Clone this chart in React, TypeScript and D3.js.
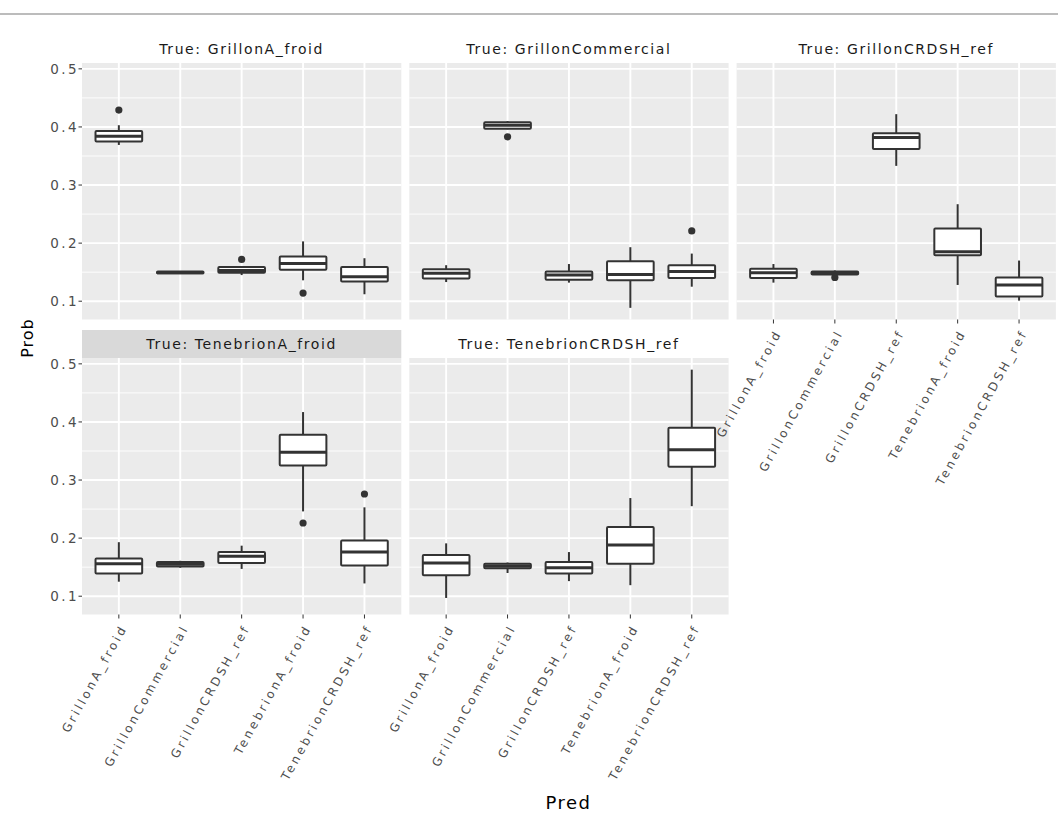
import React from "react";
import * as d3 from "d3";

// Predicted classes (x axis, same in every facet)
const predClasses = [
  "GrillonA_froid",
  "GrillonCommercial",
  "GrillonCRDSH_ref",
  "TenebrionA_froid",
  "TenebrionCRDSH_ref",
];

// True classes (facets)
const trueClasses = [
  "GrillonA_froid",
  "GrillonCommercial",
  "GrillonCRDSH_ref",
  "TenebrionA_froid",
  "TenebrionCRDSH_ref",
];

// Box stats per facet: [lowerWhisker, q1, median, q3, upperWhisker] for each predicted class
const statsGrillonA_froid = [
  [0.369, 0.375, 0.384, 0.393, 0.403],
  [0.147, 0.148, 0.149, 0.151, 0.152],
  [0.145, 0.149, 0.153, 0.159, 0.16],
  [0.136, 0.154, 0.165, 0.177, 0.203],
  [0.112, 0.134, 0.142, 0.159, 0.174],
];
const statsGrillonCommercial = [
  [0.133, 0.139, 0.148, 0.155, 0.162],
  [0.396, 0.397, 0.403, 0.408, 0.41],
  [0.132, 0.137, 0.145, 0.151, 0.164],
  [0.0886, 0.136, 0.146, 0.169, 0.193],
  [0.125, 0.14, 0.151, 0.162, 0.182],
];
const statsGrillonCRDSH_ref = [
  [0.132, 0.14, 0.149, 0.156, 0.164],
  [0.145, 0.146, 0.149, 0.151, 0.153],
  [0.333, 0.362, 0.382, 0.389, 0.422],
  [0.128, 0.179, 0.185, 0.225, 0.267],
  [0.101, 0.108, 0.128, 0.141, 0.17],
];
const statsTenebrionA_froid = [
  [0.125, 0.139, 0.156, 0.165, 0.193],
  [0.149, 0.151, 0.155, 0.159, 0.161],
  [0.147, 0.157, 0.169, 0.176, 0.187],
  [0.246, 0.325, 0.348, 0.378, 0.417],
  [0.122, 0.153, 0.176, 0.196, 0.253],
];
const statsTenebrionCRDSH_ref = [
  [0.097, 0.136, 0.157, 0.171, 0.191],
  [0.14, 0.148, 0.152, 0.156, 0.158],
  [0.126, 0.139, 0.149, 0.159, 0.176],
  [0.119, 0.156, 0.188, 0.219, 0.269],
  [0.255, 0.323, 0.352, 0.39, 0.49],
];

// Outliers: [trueIndex, predIndex, value]
const outliers: [number, number, number][] = [
  [0, 0, 0.429],
  [0, 2, 0.172],
  [0, 3, 0.114],
  [1, 1, 0.383],
  [1, 4, 0.221],
  [2, 1, 0.141],
  [3, 3, 0.226],
  [3, 4, 0.276],
];

const yTicks = [0.1, 0.2, 0.3, 0.4, 0.5];
const yMinor = [0.15, 0.25, 0.35, 0.45];

const allStats = [
  statsGrillonA_froid,
  statsGrillonCommercial,
  statsGrillonCRDSH_ref,
  statsTenebrionA_froid,
  statsTenebrionCRDSH_ref,
];

const FONT = "'DejaVu Sans', Verdana, sans-serif";

export default function App() {
  const panelW = 319.3;
  const gapX = 8;
  const colX = [0, 1, 2].map((i) => 82 + i * (panelW + gapX));
  const rowTop = [63, 358];
  const panelH = 256.5;
  const stripH = 28;

  const allVals = [
    ...allStats.flat(2),
    ...outliers.map((o) => o[2]),
  ] as number[];
  const [vmin, vmax] = d3.extent(allVals) as [number, number];
  const pad = (vmax - vmin) * 0.05;
  const yDomain: [number, number] = [vmin - pad, vmax + pad];

  const x = d3.scalePoint<string>().domain(predClasses).range([0, panelW]).padding(0.6);
  const step = x.step();
  const boxW = step * 0.76;

  const panels = trueClasses.map((t, i) => {
    const row = i < 3 ? 0 : 1;
    const col = i % 3;
    return {
      name: t,
      idx: i,
      row,
      col,
      x0: colX[col],
      y0: rowTop[row],
      showY: col === 0,
      showX: i >= 2,
    };
  });

  const tickColor = "#4d4d4d";

  return (
    <svg
      width={1058}
      height={822}
      style={{ position: "absolute", left: 0, top: 0, background: "#fff" }}
      fontFamily={FONT}
    >
      <line x1={0} x2={1058} y1={14} y2={14} stroke="#a6a6a6" strokeWidth={1.5} />
      {panels.map((p) => {
        const y = d3.scaleLinear().domain(yDomain).range([p.y0 + panelH, p.y0]);
        const stats = allStats[p.idx];
        return (
          <g key={p.name}>
            {/* strip */}
            <rect
              x={p.x0}
              y={p.y0 - stripH}
              width={panelW}
              height={stripH}
              fill={p.idx === 3 ? "#d9d9d9" : "#ffffff"}
            />
            <text
              x={p.x0 + panelW / 2}
              y={p.y0 - stripH / 2}
              dy="0.36em"
              textAnchor="middle"
              fontSize={14}
              letterSpacing={1.6}
              fill="#1a1a1a"
            >
              {"True: " + p.name}
            </text>
            {/* panel background */}
            <rect x={p.x0} y={p.y0} width={panelW} height={panelH} fill="#ebebeb" />
            {yMinor.map((v) => (
              <line
                key={"mi" + v}
                x1={p.x0}
                x2={p.x0 + panelW}
                y1={y(v)}
                y2={y(v)}
                stroke="#fff"
                strokeWidth={0.9}
              />
            ))}
            {yTicks.map((v) => (
              <line
                key={"ma" + v}
                x1={p.x0}
                x2={p.x0 + panelW}
                y1={y(v)}
                y2={y(v)}
                stroke="#fff"
                strokeWidth={1.9}
              />
            ))}
            {predClasses.map((c) => (
              <line
                key={"v" + c}
                x1={p.x0 + (x(c) as number)}
                x2={p.x0 + (x(c) as number)}
                y1={p.y0}
                y2={p.y0 + panelH}
                stroke="#fff"
                strokeWidth={1.9}
              />
            ))}
            {/* boxes */}
            {predClasses.map((c, j) => {
              const [lo, q1, med, q3, hi] = stats[j];
              const cx = p.x0 + (x(c) as number);
              return (
                <g key={"b" + c}>
                  <line x1={cx} x2={cx} y1={y(hi)} y2={y(q3)} stroke="#333" strokeWidth={2} />
                  <line x1={cx} x2={cx} y1={y(q1)} y2={y(lo)} stroke="#333" strokeWidth={2} />
                  <rect
                    x={cx - boxW / 2}
                    y={y(q3)}
                    width={boxW}
                    height={Math.max(0.5, y(q1) - y(q3))}
                    fill="#fff"
                    stroke="#333"
                    strokeWidth={2}
                    rx={1}
                  />
                  <line
                    x1={cx - boxW / 2}
                    x2={cx + boxW / 2}
                    y1={y(med)}
                    y2={y(med)}
                    stroke="#333"
                    strokeWidth={3}
                  />
                </g>
              );
            })}
            {outliers
              .filter((o) => o[0] === p.idx)
              .map((o, k) => (
                <circle
                  key={"o" + k}
                  cx={p.x0 + (x(predClasses[o[1]]) as number)}
                  cy={y(o[2])}
                  r={3.6}
                  fill="#333"
                />
              ))}
            {/* y axis */}
            {p.showY &&
              yTicks.map((v) => (
                <g key={"yt" + v}>
                  <line x1={p.x0 - 3.5} x2={p.x0} y1={y(v)} y2={y(v)} stroke="#333" strokeWidth={1} />
                  <text
                    x={p.x0 - 3}
                    y={y(v)}
                    dy="0.36em"
                    textAnchor="end"
                    fontSize={13.5}
                    letterSpacing={2.4}
                    fill={tickColor}
                  >
                    {d3.format(".1f")(v)}
                  </text>
                </g>
              ))}
            {p.showX &&
              predClasses.map((c) => {
                const cx = p.x0 + (x(c) as number);
                const by = p.y0 + panelH;
                return (
                  <line key={"xk" + c} x1={cx} x2={cx} y1={by} y2={by + 4} stroke="#333" strokeWidth={1} />
                );
              })}
          </g>
        );
      })}
      {/* x tick labels drawn on top of everything */}
      {panels
        .filter((p) => p.showX)
        .map((p) =>
          predClasses.map((c) => {
            const cx = p.x0 + (x(c) as number);
            const by = p.y0 + panelH;
            return (
              <text
                key={p.name + "xl" + c}
                transform={`translate(${cx + 5},${by + 11}) rotate(-61)`}
                dy="0.36em"
                textAnchor="end"
                fontSize={12}
                letterSpacing={2.9}
                fill={tickColor}
              >
                {c}
              </text>
            );
          })
        )}
      <text
        transform="translate(27,338) rotate(-90)"
        textAnchor="middle"
        dy="0.36em"
        fontSize={16}
        letterSpacing={1}
        fill="#000"
      >
        Prob
      </text>
      <text x={568.5} y={803} textAnchor="middle" dy="0.36em" fontSize={18} letterSpacing={1.5} fill="#000">
        Pred
      </text>
    </svg>
  );
}
